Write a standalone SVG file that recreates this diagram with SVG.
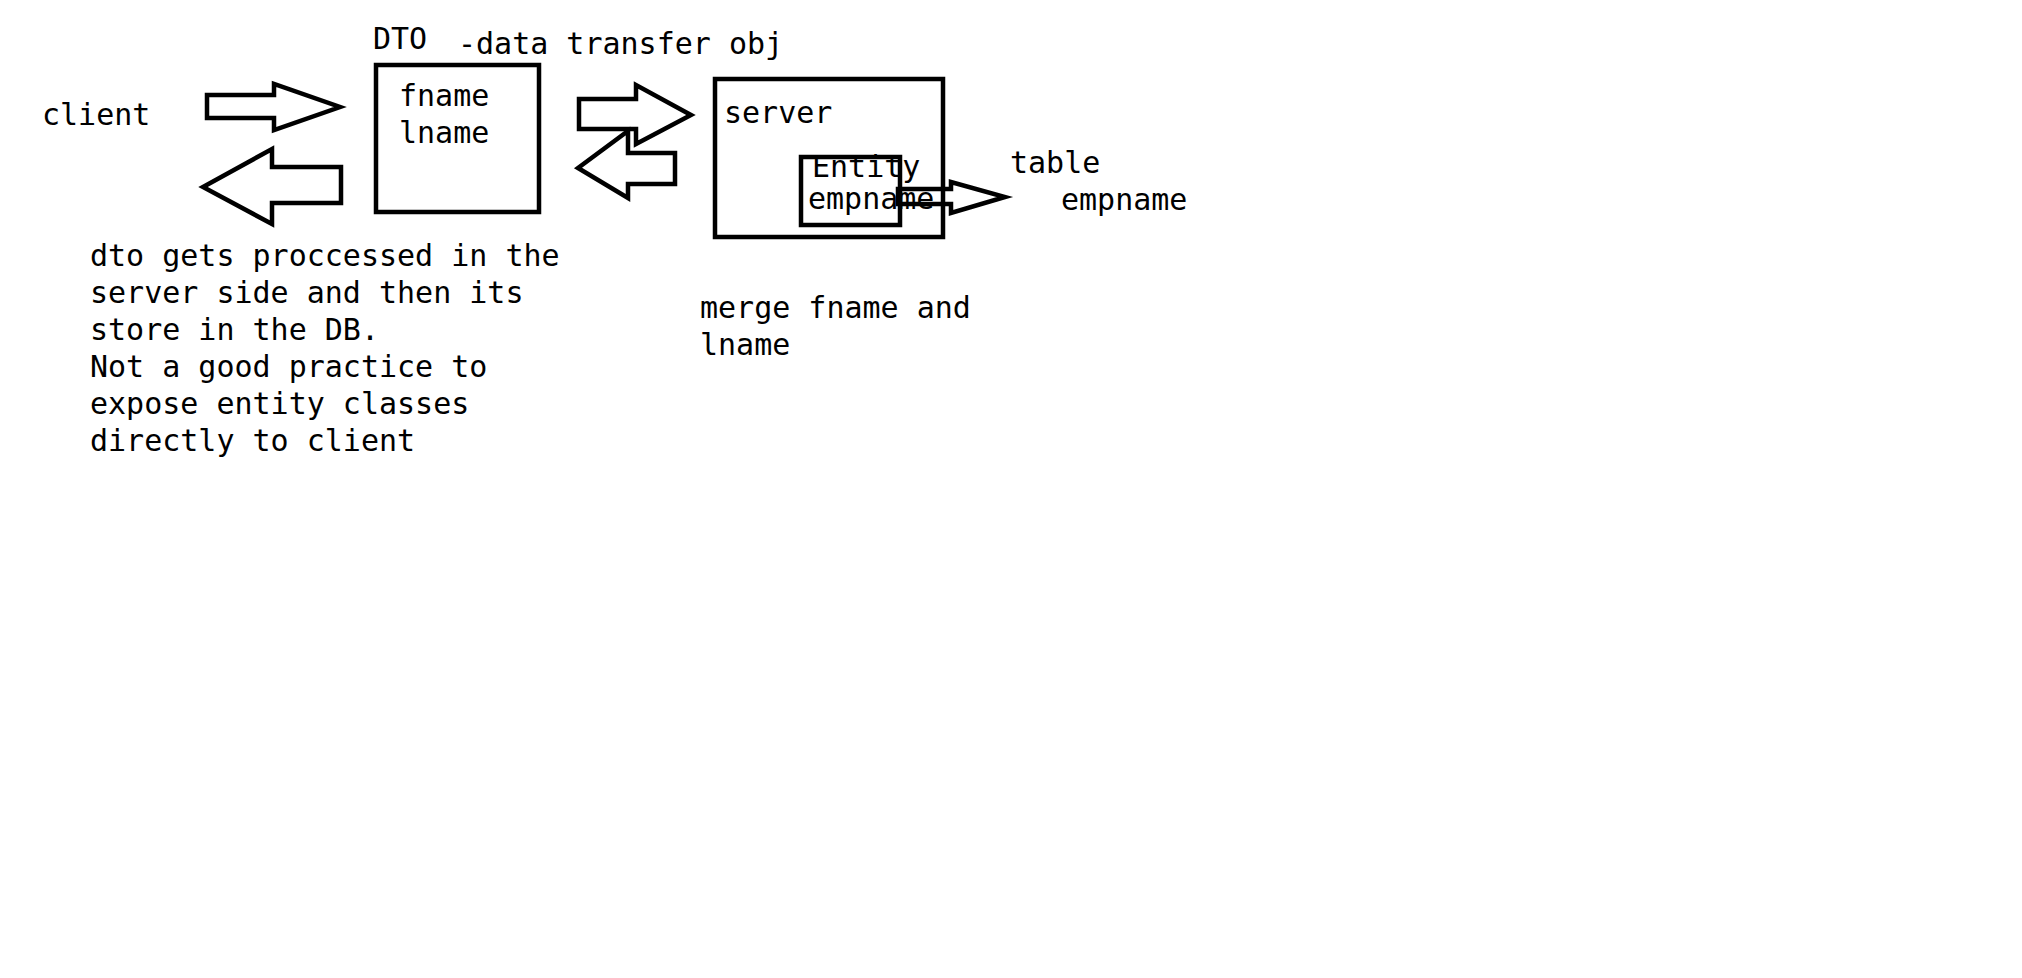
<svg xmlns="http://www.w3.org/2000/svg" width="2022" height="978" viewBox="0 0 2022 978">
<style>
text{font-family:"DejaVu Sans Mono","Liberation Mono",monospace;font-size:30px;fill:#000}
.box{fill:none;stroke:#000;stroke-width:4.5}
.arr{fill:#fff;stroke:#000;stroke-width:4.5;stroke-linejoin:miter}
.arr2{fill:none;stroke:#000;stroke-width:4.5;stroke-linejoin:miter}
</style>
<rect width="2022" height="978" fill="#fff"/>
<g id="client"><text x="42" y="125">client</text></g>
<g id="dto">
<text x="373" y="49">DTO</text>
<text x="458" y="54">-data transfer obj</text>
<rect class="box" x="376" y="65" width="163" height="147"/>
<text x="399" y="106">fname</text>
<text x="399" y="143">lname</text>
</g>
<g id="server">
<rect class="box" x="715" y="79" width="228" height="158"/>
<text x="724" y="123">server</text>
</g>
<g id="entity">
<rect class="box" x="801" y="157" width="99" height="68"/>
<text x="812" y="177">Entity</text>
<text x="808" y="209">empname</text>
</g>
<g id="table">
<text x="1010" y="173">table</text>
<text x="1061" y="210">empname</text>
</g>
<g id="notes">
<text x="90" y="266">dto gets proccessed in the</text>
<text x="90" y="303">server side and then its</text>
<text x="90" y="340">store in the DB.</text>
<text x="90" y="377">Not a good practice to</text>
<text x="90" y="414">expose entity classes</text>
<text x="90" y="451">directly to client</text>
</g>
<g id="merge-note">
<text x="700" y="318">merge fname and</text>
<text x="700" y="355">lname</text>
</g>
<g id="connectors">
<polygon class="arr" points="207,95 274,95 274,84 340,107 274,130 274,118 207,118"/>
<polygon class="arr" points="341,167 272,167 272,149 203,187 272,224 272,203 341,203"/>
<polygon class="arr" points="579,99 636,99 636,85 691,115 636,144 636,129 579,129"/>
<polygon class="arr" points="675,153 628,153 628,131 578,168 628,198 628,184 675,184"/>
<polygon class="arr2" points="898,189 951,189 951,182 1005,197 951,213 951,204 898,204"/>
</g>
</svg>
